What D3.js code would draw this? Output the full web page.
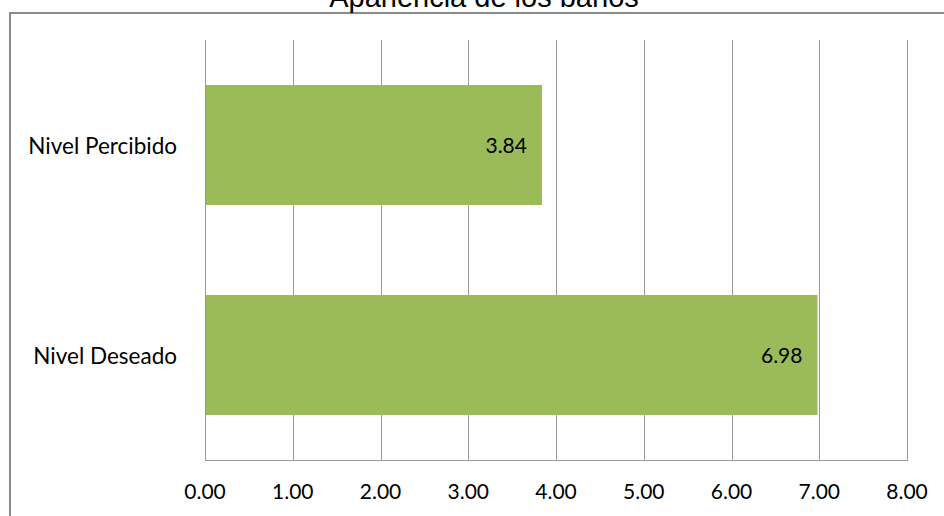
<!DOCTYPE html>
<html>
<head>
<meta charset="utf-8">
<script src="https://cdn.jsdelivr.net/npm/d3@7"></script>
<style>
  html, body { margin: 0; padding: 0; background: #fff; }
  svg { display: block; }
</style>
</head>
<body>
<svg id="chart" width="944" height="516"></svg>
<script>
// Chart data
const title = "Apariencia de los baños";
const categories = ["Nivel Percibido", "Nivel Deseado"];
const values = [3.84, 6.98];
const tickValues = [0, 1, 2, 3, 4, 5, 6, 7, 8];

const W = 944, H = 516;
const plot = { left: 205, right: 907, top: 40, bottom: 460 };
const font = "Lato, 'Open Sans', sans-serif";
const barColor = "#9BBB59";
const gridColor = "#9a9a9a";

const svg = d3.select("#chart");

// Outer chart frame
svg.append("rect")
  .attr("x", 10).attr("y", 13)
  .attr("width", W + 20).attr("height", H + 20)
  .attr("fill", "none")
  .attr("stroke", "#8a8a8a")
  .attr("stroke-width", 2);

// Title (sits above the frame, partly off the top edge)
svg.append("text")
  .attr("x", 484).attr("y", 7)
  .attr("text-anchor", "middle")
  .attr("font-family", "'Liberation Sans', Arial, sans-serif")
  .attr("font-size", 29)
  .attr("fill", "#000")
  .text(title);

const x = d3.scaleLinear().domain([0, 8]).range([plot.left, plot.right]);
const y = d3.scaleBand().domain(categories).range([plot.top, plot.bottom])
  .paddingInner(90 / 210).paddingOuter(45 / 210);

// Vertical gridlines
svg.append("g")
  .selectAll("line")
  .data(tickValues)
  .join("line")
  .attr("x1", d => Math.round(x(d)) + 0.5)
  .attr("x2", d => Math.round(x(d)) + 0.5)
  .attr("y1", plot.top)
  .attr("y2", plot.bottom)
  .attr("stroke", gridColor)
  .attr("stroke-width", 1);

// Bottom axis line
svg.append("line")
  .attr("x1", plot.left).attr("x2", plot.right + 1)
  .attr("y1", plot.bottom + 0.5).attr("y2", plot.bottom + 0.5)
  .attr("stroke", gridColor);

// Bars
svg.append("g")
  .selectAll("rect")
  .data(categories)
  .join("rect")
  .attr("x", x(0) + 1)
  .attr("y", d => y(d))
  .attr("width", (d, i) => x(values[i]) - x(0) - 1)
  .attr("height", y.bandwidth())
  .attr("fill", barColor);

// Value labels inside bar ends
svg.append("g")
  .selectAll("text")
  .data(categories)
  .join("text")
  .attr("x", (d, i) => x(values[i]) - 15)
  .attr("y", d => y(d) + y.bandwidth() / 2 + 1)
  .attr("dy", "0.35em")
  .attr("text-anchor", "end")
  .attr("font-family", font)
  .attr("font-size", 21)
  .attr("fill", "#000")
  .text((d, i) => values[i].toFixed(2));

// Category labels
svg.append("g")
  .selectAll("text")
  .data(categories)
  .join("text")
  .attr("x", 177)
  .attr("y", d => y(d) + y.bandwidth() / 2 + 1)
  .attr("dy", "0.35em")
  .attr("text-anchor", "end")
  .attr("font-family", font)
  .attr("font-size", 22.5)
  .attr("fill", "#000")
  .text(d => d);

// X tick labels
svg.append("g")
  .selectAll("text")
  .data(tickValues)
  .join("text")
  .attr("x", d => x(d))
  .attr("y", 492)
  .attr("dy", "0.35em")
  .attr("text-anchor", "middle")
  .attr("font-family", font)
  .attr("font-size", 21)
  .attr("fill", "#000")
  .text(d => d3.format(".2f")(d));
</script>
</body>
</html>
